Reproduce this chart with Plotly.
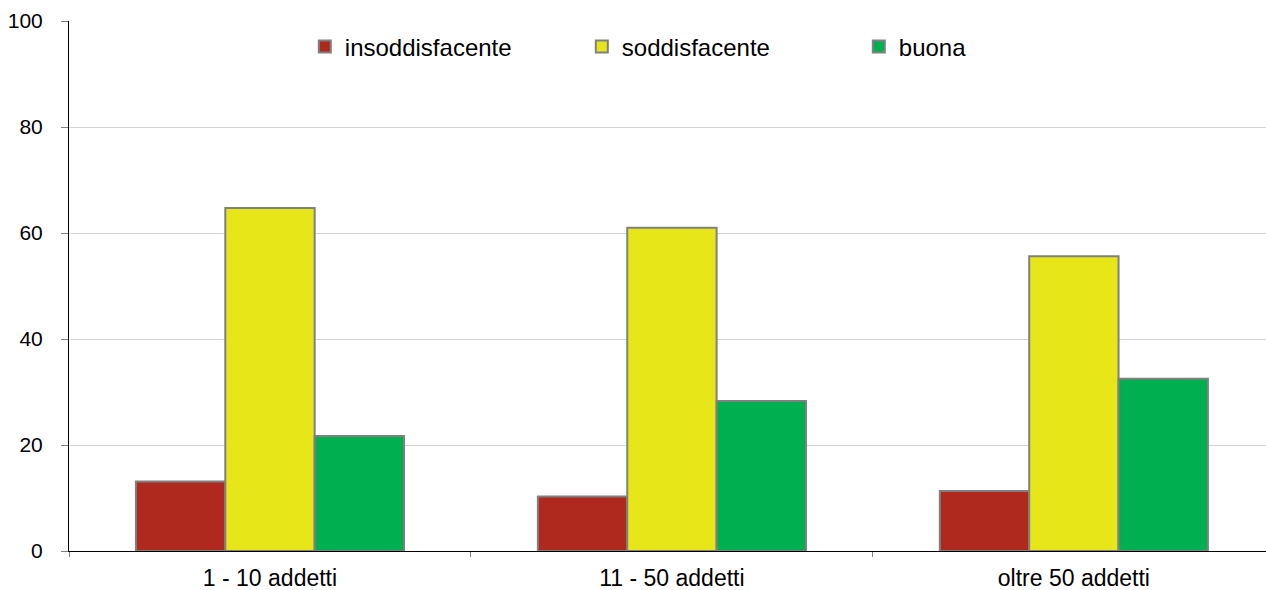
import plotly.graph_objects as go

# Company size classes and the share (%) of each rating
categories = ["1 - 10 addetti", "11 - 50 addetti", "oltre 50 addetti"]
insoddisfacente = [13.1, 10.3, 11.3]
soddisfacente = [64.7, 61.0, 55.6]
buona = [21.7, 28.3, 32.5]

series = [
    ("insoddisfacente", insoddisfacente, "#B0291F"),
    ("soddisfacente", soddisfacente, "#E6E619"),
    ("buona", buona, "#00AF50"),
]

fig = go.Figure()
for name, values, color in series:
    fig.add_trace(go.Bar(
        name=name,
        x=categories,
        y=values,
        marker=dict(color=color, line=dict(color="#808080", width=2)),
    ))

font_family = "Liberation Sans, Arial, sans-serif"

fig.update_layout(
    width=1266,
    height=590,
    margin=dict(l=69, r=0, t=21, b=39),
    paper_bgcolor="white",
    plot_bgcolor="white",
    barmode="group",
    bargap=0.333,
    bargroupgap=0,
    font=dict(family=font_family, size=23, color="black"),
    legend=dict(
        orientation="h",
        x=0.197,
        xanchor="left",
        y=0.951,
        yanchor="middle",
        entrywidth=232,
        entrywidthmode="pixels",
        itemwidth=30,
        font=dict(family=font_family, size=24, color="black"),
        bgcolor="rgba(0,0,0,0)",
    ),
    xaxis=dict(
        type="category",
        range=[-0.5, 2.478],
        showline=True,
        linecolor="black",
        linewidth=1,
        ticks="outside",
        tickson="boundaries",
        ticklen=5,
        tickcolor="#808080",
        tickwidth=1,
        showgrid=False,
        ticklabelstandoff=6,
        tickfont=dict(size=23),
    ),
    yaxis=dict(
        range=[0, 100],
        dtick=20,
        showline=True,
        linecolor="black",
        linewidth=1,
        ticks="outside",
        ticklen=7,
        tickcolor="#808080",
        showgrid=True,
        gridcolor="#D4D4D4",
        gridwidth=1,
        zeroline=False,
        ticklabelstandoff=14,
        tickfont=dict(size=21),
    ),
)

fig.write_html("out.html")
